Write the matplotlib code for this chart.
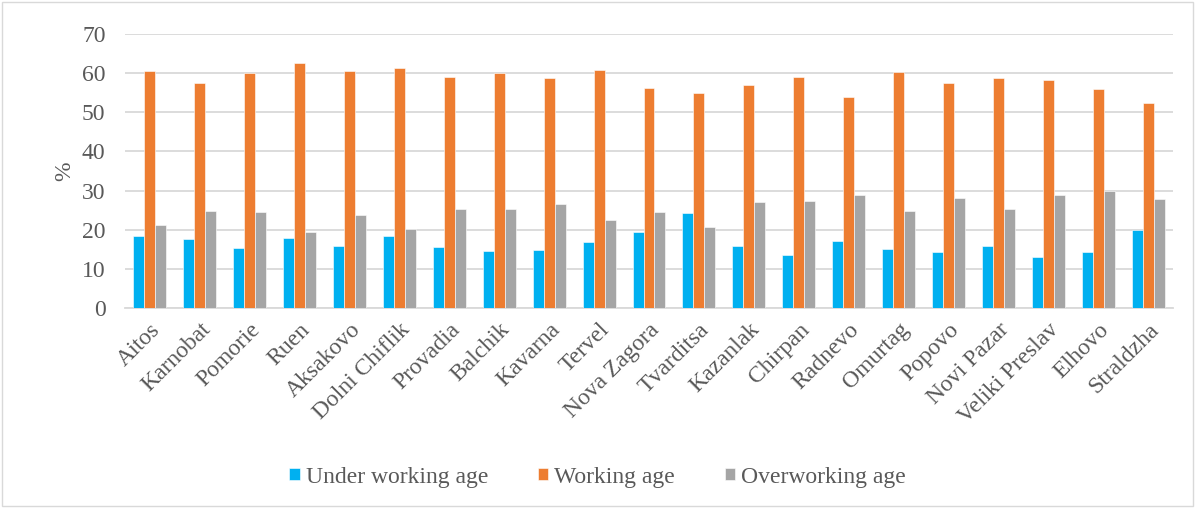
import numpy as np
import matplotlib.pyplot as plt
from matplotlib.patches import Rectangle

towns = ['Aitos', 'Karnobat', 'Pomorie', 'Ruen', 'Aksakovo', 'Dolni Chiflik',
         'Provadia', 'Balchik', 'Kavarna', 'Tervel', 'Nova Zagora', 'Tvarditsa',
         'Kazanlak', 'Chirpan', 'Radnevo', 'Omurtag', 'Popovo', 'Novi Pazar',
         'Veliki Preslav', 'Elhovo', 'Straldzha']
under_age = [18.3, 17.7, 15.4, 17.9, 15.8, 18.5, 15.5, 14.6, 14.8, 16.9, 19.4,
             24.2, 15.8, 13.5, 17.2, 15.0, 14.3, 15.9, 13.0, 14.2, 19.8]
working_age = [60.5, 57.4, 60.1, 62.6, 60.5, 61.4, 59.1, 60.1, 58.8, 60.7, 56.2,
               55.0, 57.0, 59.1, 53.9, 60.3, 57.6, 58.8, 58.2, 56.0, 52.4]
over_age = [21.2, 24.9, 24.5, 19.5, 23.8, 20.1, 25.4, 25.3, 26.5, 22.5, 24.5,
            20.8, 27.1, 27.3, 28.9, 24.7, 28.1, 25.3, 28.9, 29.9, 27.9]

plt.rcParams['font.family'] = ['Liberation Serif', 'DejaVu Serif']
txt = '#595959'

fig = plt.figure(figsize=(11.95, 5.08), dpi=100)
ax = fig.add_axes([125 / 1195, 1 - 308 / 508, 1048 / 1195, 274 / 508])

x = np.arange(len(towns))
w = 0.22
ax.bar(x - w, under_age, w, color='#00b0f0', edgecolor='white', linewidth=0.4,
       label='Under working age', zorder=3)
ax.bar(x, working_age, w, color='#ed7d31', edgecolor='white', linewidth=0.4,
       label='Working age', zorder=3)
ax.bar(x + w, over_age, w, color='#a5a5a5', edgecolor='white', linewidth=0.4,
       label='Overworking age', zorder=3)

ax.set_xlim(-0.5, len(towns) - 0.5)
ax.set_ylim(0, 70)
ax.set_yticks(range(0, 71, 10))
ax.yaxis.grid(True, color='#d9d9d9', linewidth=1.3, zorder=0)
for s in ['top', 'right', 'left']:
    ax.spines[s].set_visible(False)
ax.spines['bottom'].set_color('#d9d9d9')
ax.spines['bottom'].set_linewidth(1.3)
ax.tick_params(axis='both', length=0, labelsize=17, colors=txt)
ax.tick_params(axis='y', pad=14)
ax.tick_params(axis='x', pad=8)
ax.set_xticks(x)
ax.set_xticklabels(towns, rotation=45, ha='right', rotation_mode='anchor')
ax.set_ylabel('%', fontsize=17, color=txt, labelpad=5)

fig.legend(loc='center', bbox_to_anchor=(0.5, 1 - 477 / 508), ncol=3,
           frameon=False, fontsize=17, handlelength=0.45, handleheight=0.45,
           handletextpad=0.25, columnspacing=2.1, labelcolor=txt)

fig.patches.append(Rectangle((0.002, 0.004), 0.996, 0.992, transform=fig.transFigure,
                             fill=False, edgecolor='#d9d9d9', linewidth=1))

fig.savefig('out.png', dpi=100)
